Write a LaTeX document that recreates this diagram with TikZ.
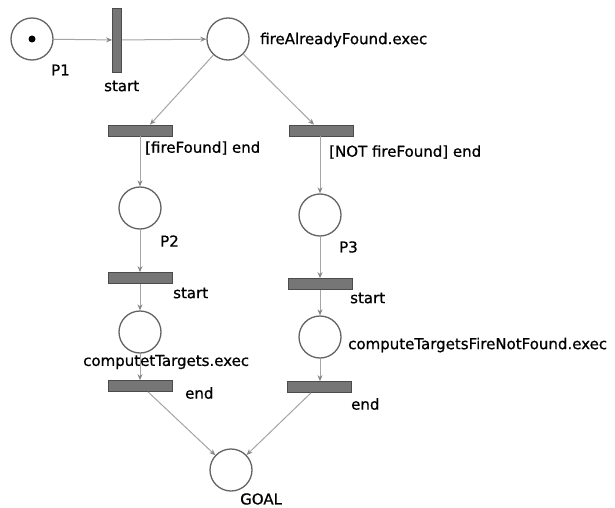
\documentclass[tikz,border=0pt]{standalone}
\usepackage{fontspec}
\setmainfont[FakeBold=0.8]{DejaVu Sans}
\usetikzlibrary{arrows.meta}
\definecolor{arccol}{RGB}{165,165,165}
\definecolor{tipcol}{RGB}{135,135,135}
\definecolor{barfill}{RGB}{118,118,118}
\definecolor{bardraw}{RGB}{75,75,75}
\definecolor{placedraw}{RGB}{100,100,100}
\begin{document}
\begin{tikzpicture}[x=1pt,y=-1pt,
 place/.style={circle,draw=placedraw,line width=1.3pt,minimum size=42pt,inner sep=0pt,fill=white},
 vbar/.style={rectangle,draw=bardraw,fill=barfill,line width=0.7pt,minimum width=9pt,minimum height=64pt,inner sep=0pt},
 hbar/.style={rectangle,draw=bardraw,fill=barfill,line width=0.7pt,minimum width=64pt,minimum height=11pt,inner sep=0pt},
 lbl/.style={font=\fontsize{15}{17}\selectfont,inner sep=0pt,anchor=west},
 flow/.style={draw=arccol,line width=1pt,-{Stealth[length=6pt,width=5pt,color=tipcol]}}
]
\useasboundingbox[fill=white] (0,0) rectangle (615,508);
% places and transitions
\node[place] (p1) at (32,39) {};
\node[circle,fill=black,inner sep=0pt,minimum size=7pt] (tok) at (p1) {};
\node[vbar] (t0) at (117,40) {};
\node[place] (fire) at (228,39) {};
\node[hbar] (e1) at (140,130.5) {};
\node[hbar] (e2) at (321,130.5) {};
\node[place] (p2) at (140,208) {};
\node[place] (p3) at (320,215) {};
\node[hbar] (s1) at (140,278) {};
\node[hbar] (s2) at (320,284) {};
\node[place] (c1) at (140,332) {};
\node[place] (c2) at (320,337) {};
\node[hbar] (f1) at (140,386) {};
\node[hbar] (f2) at (319,387) {};
\node[place] (goal) at (231,470) {};
% connectors
\draw[flow] (p1) -- (t0);
\draw[flow] (t0) -- (fire);
\draw[flow] (fire) -- ([xshift=10pt]e1.north);
\draw[flow] (fire) -- ([xshift=-7pt]e2.north);
\draw[flow] (e1) -- (p2);
\draw[flow] (e2.south -| p3) -- (p3);
\draw[flow] (p2) -- (s1);
\draw[flow] (p3) -- (s2);
\draw[flow] (s1) -- (c1);
\draw[flow] (s2) -- (c2);
\draw[flow] (c1) -- (f1);
\draw[flow] (c2) -- (c2 |- f2.north);
\draw[flow] ([xshift=8pt]f1.south) -- (goal);
\draw[flow] ([xshift=-8pt]f2.south) -- (goal);
% labels
\node[lbl] (lp1) at (51,70) {P1};
\node[lbl] (lst0) at (104,86) {start};
\node[lbl] (lfire) at (260,40) {fireAlreadyFound.exec};
\node[lbl] (le1) at (145,148) {[fireFound] end};
\node[lbl] (le2) at (329,152) {[NOT fireFound] end};
\node[lbl] (lp2) at (160,241) {P2};
\node[lbl] (lp3) at (339,247) {P3};
\node[lbl] (ls1) at (173,293) {start};
\node[lbl] (ls2) at (350,298) {start};
\node[lbl] (lc2) at (348,345) {computeTargetsFireNotFound.exec};
\node[lbl] (lc1) at (83,362) {computetTargets.exec};
\node[lbl] (lf1) at (185,393) {end};
\node[lbl] (lf2) at (351,404) {end};
\node[lbl] (lgoal) at (240,499) {GOAL};
\end{tikzpicture}
\end{document}
